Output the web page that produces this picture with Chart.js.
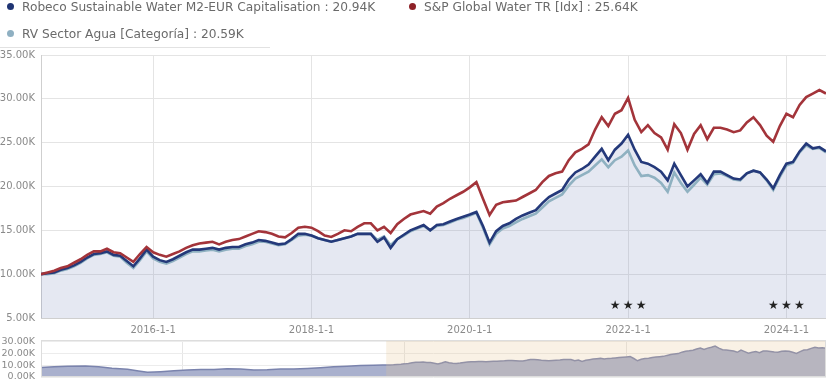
<!DOCTYPE html>
<html><head><meta charset="utf-8">
<script src="https://cdn.jsdelivr.net/npm/chart.js@4.4.0/dist/chart.umd.min.js"></script>
<style>
html,body{margin:0;padding:0;background:#fff;width:826px;height:380px;overflow:hidden;position:relative;}
#legend{position:absolute;left:0;top:0;width:826px;height:48px;font-family:'DejaVu Sans',sans-serif;font-size:12.2px;color:#6a6a6a;z-index:2;}
.item{position:absolute;white-space:nowrap;line-height:14px;}
.dot{display:inline-block;width:7px;height:7px;border-radius:50%;margin-right:8px;vertical-align:middle;position:relative;top:-1px;}
#rule{position:absolute;left:0;top:47px;width:270px;height:1px;background:#e2e2e2;z-index:2;}
#main{position:absolute;left:0;top:0;}
#nav{position:absolute;left:0;top:336px;}
</style></head>
<body>
<div id="legend"></div>
<div id="rule"></div>
<canvas id="main" width="826" height="338"></canvas>
<canvas id="nav" width="826" height="44"></canvas>
<script>
// ---- data ----
const startYear = 2014, startMonth = 7; // first monthly point: end of July 2014
const seriesNames = ['Robeco Sustainable Water M2-EUR Capitalisation : 20.94K', 'S&P Global Water TR [Idx] : 25.64K', 'RV Sector Agua [Categoría] : 20.59K'];
const fundValues = [10.0,10.1,10.2,10.5,10.7,11.0,11.4,11.9,12.3,12.4,
12.6,12.2,12.1,11.5,10.9,11.8,12.8,12.0,11.6,11.4,
11.7,12.1,12.5,12.8,12.8,12.9,13.0,12.8,13.0,13.1,
13.1,13.4,13.6,13.9,13.8,13.6,13.4,13.5,14.0,14.6,
14.6,14.4,14.1,13.9,13.7,13.9,14.1,14.3,14.6,14.6,
14.6,13.7,14.2,13.0,14.0,14.5,15.0,15.3,15.6,15.0,
15.6,15.7,16.0,16.3,16.55,16.8,17.1,15.5,13.6,14.9,
15.5,15.8,16.3,16.7,17.0,17.3,18.1,18.8,19.2,19.6,
20.8,21.6,22.0,22.5,23.4,24.3,23.0,24.2,24.9,25.9,
24.2,22.8,22.6,22.2,21.7,20.7,22.6,21.3,20.0,20.7,
21.4,20.4,21.7,21.7,21.3,20.9,20.8,21.5,21.8,21.6,
20.8,19.8,21.3,22.6,22.8,24.0,24.9,24.35,24.5,24.0];
const indexValues = [10.0,10.2,10.4,10.7,10.9,11.3,11.7,12.2,12.6,12.6,
12.9,12.5,12.4,11.9,11.4,12.3,13.1,12.5,12.2,12.0,
12.3,12.6,13.0,13.3,13.5,13.6,13.7,13.4,13.7,13.9,
14.0,14.3,14.6,14.9,14.8,14.6,14.3,14.2,14.7,15.3,
15.4,15.3,14.9,14.4,14.25,14.6,15.0,14.9,15.4,15.8,
15.8,15.0,15.4,14.7,15.7,16.3,16.8,17.0,17.2,16.9,
17.7,18.1,18.6,19.0,19.4,19.9,20.5,18.6,16.75,17.9,
18.2,18.3,18.4,18.8,19.2,19.6,20.5,21.2,21.5,21.7,
23.0,23.9,24.3,24.8,26.5,27.9,26.9,28.3,28.7,30.1,
27.6,26.2,27.0,26.1,25.6,24.2,27.1,26.1,24.2,26.0,
27.0,25.4,26.7,26.7,26.5,26.2,26.4,27.3,27.9,27.0,
25.8,25.1,26.9,28.3,27.9,29.3,30.2,30.6,31.0,30.6];
const categoryValues = [10.0,10.0,10.1,10.4,10.6,10.9,11.3,11.8,12.2,12.3,
12.5,12.1,12.0,11.3,10.7,11.6,12.6,11.8,11.4,11.2,
11.5,11.9,12.3,12.6,12.6,12.7,12.8,12.6,12.8,12.9,
12.9,13.2,13.4,13.7,13.7,13.5,13.3,13.4,13.9,14.4,
14.5,14.4,14.1,13.9,13.7,13.9,14.1,14.3,14.6,14.6,
14.6,13.9,14.3,13.3,14.0,14.4,14.9,15.2,15.5,15.0,
15.5,15.6,15.9,16.2,16.4,16.7,17.0,15.3,13.4,14.6,
15.2,15.5,15.9,16.3,16.6,16.9,17.6,18.3,18.7,19.1,
20.1,20.9,21.3,21.7,22.4,23.1,22.2,23.0,23.4,24.1,
22.4,21.2,21.3,21.0,20.4,19.4,21.6,20.4,19.4,20.2,
21.0,20.2,21.4,21.5,21.2,20.8,20.7,21.5,21.8,21.6,
20.7,19.6,21.1,22.4,22.7,23.9,24.7,24.3,24.4,23.9];
const navHistYears = [2006.8,2007.1,2007.4,2007.8,2008.1,2008.4,2008.75,2009.0,2009.2,2009.5,2009.8,2010.1,2010.4,2010.7,2011.0,2011.3,2011.6,2011.9,2012.2,2012.5,2012.8,2013.1,2013.4,2013.7,2014.0,2014.3,2014.5];
const navHistValues = [8.0,8.6,9.1,9.2,8.6,7.4,6.4,5.0,3.9,4.5,5.3,5.9,6.3,6.2,6.9,6.6,5.8,6.0,6.7,6.8,7.2,7.8,8.6,9.1,9.6,9.9,10.0];
const xTickYears = [2016,2018,2020,2022,2024];
const yTickValues = [5,10,15,20,25,30,35];
const navYTicks = [0,10,20,30];
const navGridYears = [2010,2015,2020];
const ratingYears = [2022,2024];
const ratingStars = [3,3];

// ---- styles ----
const NAVY = '#24397a', RED = '#a3343a', TEAL = '#8fb1c1';
const dotColors = ['#1f3473','#8e2228','#8fb0c2'];
const FONT = 'DejaVu Sans';

// legend
const legendPos = [[7,0],[409,0],[7,27]];
const lg = document.getElementById('legend');
seriesNames.forEach((n,i)=>{
  const d = document.createElement('div'); d.className='item';
  d.style.left = legendPos[i][0]+'px'; d.style.top = legendPos[i][1]+'px';
  d.innerHTML = '<span class="dot" style="background:'+dotColors[i]+'"></span>';
  d.appendChild(document.createTextNode(n));
  lg.appendChild(d);
});

const monthX = i => startYear + startMonth/12 + i/12;
const pts = arr => arr.map((v,i)=>({x:monthX(i), y:v}));
const X0 = monthX(0), X1 = monthX(fundValues.length-1);

const starPlugin = {
  id:'stars',
  afterDatasetsDraw(chart){
    const {ctx, chartArea, scales:{x}} = chart;
    ctx.save();
    ctx.fillStyle = '#222';
    ctx.font = '12px "'+FONT+'"';
    ctx.textAlign='center'; ctx.textBaseline='middle';
    ratingYears.forEach((yr,k)=>{
      const cx = x.getPixelForValue(yr);
      for(let s=0;s<ratingStars[k];s++){
        ctx.fillText('\u2605', cx + (s-(ratingStars[k]-1)/2)*13, chartArea.bottom-12);
      }
    });
    ctx.restore();
  }
};

new Chart(document.getElementById('main'), {
  type:'line',
  data:{datasets:[
    {data:pts(indexValues), borderColor:RED, borderWidth:2.6, pointRadius:0, fill:false, tension:0},
    {data:pts(fundValues), borderColor:NAVY, borderWidth:2.6, pointRadius:0, fill:'start', backgroundColor:'rgba(115,135,185,0.19)', tension:0},
    {data:pts(categoryValues), borderColor:TEAL, borderWidth:2.6, pointRadius:0, fill:false, tension:0}
  ]},
  options:{
    responsive:false, animation:false, devicePixelRatio:1,
    layout:{padding:{top:55,left:0,right:0,bottom:0}},
    plugins:{legend:{display:false}, tooltip:{enabled:false}, filler:{drawTime:'beforeDatasetsDraw'}},
    scales:{
      x:{type:'linear', min:X0, max:X1,
        afterBuildTicks:s=>{s.ticks = xTickYears.map(v=>({value:v}));},
        afterFit:s=>{s.height = 20;},
        ticks:{callback:v=>v+'-1-1', maxRotation:0, autoSkip:false, padding:6, color:'#8a8a8a', font:{family:FONT,size:10}},
        grid:{color:'#e4e4e4', drawTicks:false}, border:{color:'#cfcfcf'}},
      y:{min:5, max:35,
        afterBuildTicks:s=>{s.ticks = yTickValues.map(v=>({value:v}));},
        afterFit:s=>{s.width = 41;},
        ticks:{callback:v=>v.toFixed(2)+'K', autoSkip:false, padding:6, color:'#8a8a8a', font:{family:FONT,size:10}},
        grid:{color:'#e4e4e4', drawTicks:false}, border:{color:'#cfcfcf'}}
    }
  },
  plugins:[starPlugin]
});

const maskPlugin = {
  id:'mask',
  afterDatasetsDraw(chart){
    const {ctx, chartArea:a, scales:{x}} = chart;
    const left = x.getPixelForValue(X0);
    ctx.save();
    ctx.fillStyle = 'rgba(232,196,146,0.24)';
    ctx.fillRect(left, a.top, a.right-left, a.bottom-a.top);
    ctx.strokeStyle = '#dddddd'; ctx.lineWidth = 1;
    ctx.strokeRect(a.left+0.5, a.top+0.5, a.right-a.left-1, a.bottom-a.top-1);
    ctx.restore();
  }
};

const navPts = navHistYears.map((y,i)=>({x:y, y:navHistValues[i]})).concat(pts(fundValues));
new Chart(document.getElementById('nav'), {
  type:'line',
  data:{datasets:[{data:navPts, borderColor:'#7a83ad', borderWidth:1.5, pointRadius:0, fill:'start', backgroundColor:'#a9b0cd', tension:0}]},
  options:{
    responsive:false, animation:false, devicePixelRatio:1,
    layout:{padding:{top:4,left:0,right:0,bottom:3}},
    plugins:{legend:{display:false}, tooltip:{enabled:false}},
    scales:{
      x:{type:'linear', min:2006.8, max:X1,
        afterBuildTicks:s=>{s.ticks = navGridYears.map(v=>({value:v}));},
        afterFit:s=>{s.height = 0; s.paddingLeft = 0; s.paddingRight = 0; s.paddingTop = 0; s.paddingBottom = 0;},
        ticks:{display:false},
        grid:{color:'#e6e6e6', drawTicks:false}, border:{display:false}},
      y:{min:0, max:31,
        afterBuildTicks:s=>{s.ticks = navYTicks.map(v=>({value:v}));},
        afterFit:s=>{s.width = 41; s.paddingTop = 0; s.paddingBottom = 0;},
        ticks:{callback:v=>v.toFixed(2)+'K', autoSkip:false, padding:6, color:'#8a8a8a', font:{family:FONT,size:9.5}},
        grid:{color:'#ececec', drawTicks:false}, border:{display:false}}
    }
  },
  plugins:[maskPlugin]
});
</script>
</body></html>
